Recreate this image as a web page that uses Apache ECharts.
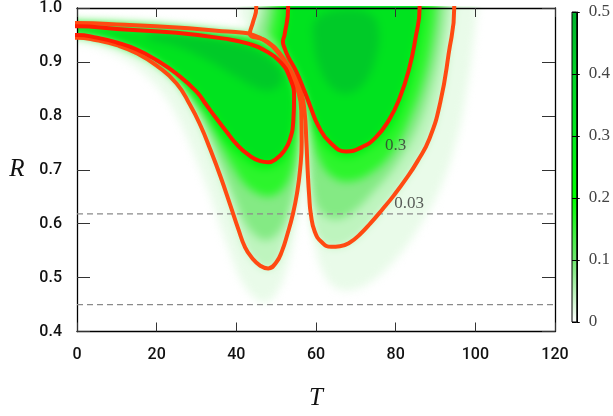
<!DOCTYPE html>
<html>
<head>
<meta charset="utf-8">
<script src="https://cdn.jsdelivr.net/npm/echarts@6/dist/echarts.min.js"></script>
<style>
  html, body { margin: 0; padding: 0; background: #fff; }
  #stage { position: relative; width: 613px; height: 416px; overflow: hidden; }
  #fieldClip { position: absolute; left: 77px; top: 6px; width: 478px; height: 327px; overflow: hidden; }
  #field { position: absolute; left: -77px; top: -6px; width: 613px; height: 416px; filter: blur(4px); }
  #chart { position: absolute; left: 0; top: 0; width: 613px; height: 416px; }
</style>
</head>
<body>
<div id="stage">
  <div id="fieldClip"><div id="field"></div></div>
  <div id="chart"></div>
</div>
<script>
// ---- axes and scale ----
const tTicks = [0, 20, 40, 60, 80, 100, 120];
const rTicks = [0.4, 0.5, 0.6, 0.7, 0.8, 0.9, 1.0];
const scaleTicks = [0, 0.1, 0.2, 0.3, 0.4, 0.5];
const paletteStops = ['#ffffff', '#6ee66e', '#00ff00', '#00ea1c', '#00d426', '#00b22c'];

// dashed reference levels of R
const guideLevels = [0.618, 0.45];

// contour levels that are drawn as lines
const innerLevel = 0.3;
const outerLevel = 0.03;

// ---- contour 0.3 (T, R) ----
const leftC03 = [[-3,0.966],[0,0.966],[10,0.961],[25,0.954],[38,0.942],[43.4,0.933],[46.7,0.923],[50.9,0.901],[53.4,0.871],[54.5,0.834],[54.3,0.79],[53.4,0.755],[52,0.735],[50,0.72],[48,0.714],[46,0.716],[43,0.728],[40,0.748],[37.5,0.771],[35,0.795],[32.5,0.82],[30,0.845],[25,0.878],[20,0.903],[15,0.923],[10,0.936],[5,0.945],[0,0.950],[-3,0.950]];
const rightC03 = [[53,1.03],[53,1.0],[52.1,0.95],[51.7,0.938],[52.1,0.926],[53,0.91],[55,0.883],[57.1,0.846],[58.6,0.817],[60.6,0.781],[63.5,0.751],[67.6,0.734],[71.5,0.742],[75,0.76],[78.3,0.792],[81,0.833],[83.3,0.885],[85,0.945],[86,1.0],[86,1.03]];

// ---- contour 0.03 (T, R) ----
const leftC003 = [[-3,0.972],[0,0.972],[12,0.969],[25,0.964],[35,0.958],[41.8,0.954],[43.4,0.952],[47,0.940],[50.6,0.916],[53.4,0.884],[55.4,0.848],[56.3,0.81],[56.4,0.75],[56,0.70],[55.2,0.655],[54.2,0.618],[52.8,0.58],[51.5,0.55],[50,0.528],[48,0.517],[46,0.522],[44,0.536],[42.2,0.556],[40.5,0.59],[38.5,0.634],[36,0.688],[33.5,0.737],[31,0.782],[28.4,0.820],[25,0.860],[20,0.893],[15,0.916],[10,0.931],[5,0.940],[0,0.945],[-3,0.945]];
const rightC003 = [[45,1.03],[45,1.0],[44.2,0.974],[43.4,0.953],[47.5,0.939],[51,0.915],[54,0.88],[56.2,0.845],[57.1,0.81],[57.6,0.75],[57.9,0.70],[58.3,0.65],[58.7,0.618],[59.7,0.585],[61.4,0.566],[63.8,0.557],[66,0.558],[68.5,0.565],[71,0.58],[73.7,0.601],[76.5,0.625],[79.5,0.652],[82.5,0.682],[85.5,0.716],[88.5,0.758],[91.2,0.825],[93.3,0.915],[94.7,1.0],[94.7,1.03]];

// ---- further field levels (T, R) ----
const leftF001 = [[-3,0.978],[0,0.977],[20,0.971],[38,0.960],[43,0.958],[47.5,0.946],[51,0.921],[54.3,0.885],[56.3,0.845],[57.2,0.80],[57.4,0.74],[57,0.70],[56.1,0.64],[54.8,0.585],[53,0.525],[50.5,0.478],[47.5,0.456],[44.5,0.465],[41,0.50],[38.3,0.55],[35.8,0.60],[33,0.66],[29.8,0.72],[26.3,0.78],[22.5,0.83],[17.5,0.872],[12,0.902],[6,0.922],[0,0.933],[-3,0.933]];
const leftF006 = [[-3,0.971],[0,0.971],[12,0.968],[25,0.962],[38,0.951],[43.4,0.947],[47,0.937],[50.6,0.913],[53.5,0.879],[55.3,0.844],[56.1,0.80],[56.2,0.745],[55.6,0.70],[54.3,0.65],[52.3,0.605],[49.8,0.578],[47.2,0.57],[44.6,0.58],[42,0.604],[39.6,0.645],[36.5,0.70],[33.6,0.752],[30.5,0.80],[26.2,0.853],[21,0.887],[16.5,0.91],[8,0.934],[0,0.946],[-3,0.946]];
const leftF012 = [[-3,0.970],[0,0.970],[12,0.967],[25,0.960],[38,0.949],[43.4,0.943],[47,0.933],[50.9,0.909],[53.8,0.876],[55.3,0.84],[55.7,0.80],[55.5,0.76],[54.8,0.72],[53.5,0.687],[51.5,0.663],[48.5,0.651],[45.5,0.655],[42.5,0.67],[39.8,0.697],[37,0.732],[34.2,0.772],[31,0.81],[27,0.847],[22.5,0.881],[17.5,0.905],[8,0.934],[0,0.947],[-3,0.947]];
const leftF020 = [[-3,0.968],[0,0.968],[10,0.963],[25,0.956],[38,0.945],[43.4,0.937],[47,0.927],[51.5,0.904],[54.1,0.873],[55.2,0.834],[55,0.79],[53.7,0.745],[51.4,0.714],[48.5,0.703],[46.3,0.702],[43.7,0.71],[41,0.725],[38.3,0.743],[35,0.77],[32,0.805],[28,0.84],[24,0.872],[19.5,0.898],[16,0.914],[8,0.936],[0,0.948],[-3,0.948]];
const leftF040 = [[18,0.951],[28,0.946],[38,0.936],[45,0.919],[49.5,0.897],[51.5,0.876],[51,0.856],[48.5,0.845],[45,0.85],[40,0.87],[33,0.9],[25,0.926],[18,0.941]];

const rightF001 = [[41,1.03],[41,1.0],[41.2,0.975],[44.5,0.962],[49,0.942],[52.8,0.91],[55.8,0.87],[57.6,0.82],[58.2,0.75],[58.5,0.68],[58.9,0.62],[59.6,0.565],[61.5,0.515],[64.5,0.485],[68.5,0.478],[74,0.495],[80,0.535],[86,0.595],[91.5,0.67],[95.5,0.76],[98.2,0.86],[99.8,0.95],[100.5,1.0],[100.5,1.03]];
const rightF006 = [[47,1.03],[47,1.0],[46,0.965],[45.5,0.951],[48.5,0.936],[51.6,0.911],[54.6,0.876],[56.7,0.84],[57.7,0.80],[58.2,0.74],[58.7,0.68],[60,0.636],[62.4,0.614],[65.5,0.609],[69.5,0.623],[74.5,0.66],[80,0.708],[85.3,0.775],[88.8,0.85],[91.2,0.93],[92.4,1.0],[92.4,1.03]];
const rightF012 = [[49.5,1.03],[49.5,1.0],[48.6,0.96],[48.3,0.945],[50.3,0.927],[52.5,0.904],[55,0.872],[57,0.837],[58.2,0.80],[59.1,0.76],[60.6,0.722],[63.5,0.69],[68,0.678],[73.5,0.692],[79.3,0.733],[83.8,0.798],[87.2,0.87],[89.2,0.94],[90.2,1.0],[90.2,1.03]];
const rightF020 = [[52.2,1.03],[52.2,1.0],[51.3,0.95],[50.9,0.936],[51.4,0.922],[52.5,0.905],[54.5,0.878],[56.6,0.84],[57.9,0.81],[59.9,0.77],[63,0.738],[67.6,0.722],[73,0.737],[78.4,0.77],[82,0.823],[84.6,0.887],[86.3,0.95],[87.2,1.0],[87.2,1.03]];
const rightF040 = [[60,0.975],[59.5,0.93],[61,0.885],[64,0.85],[68,0.84],[72,0.858],[74.8,0.9],[75.8,0.95],[74,0.983],[67,0.993]];

// filled bands, drawn from the lowest level upward; value = colour of the band
const fieldBands = [
  { value: 0.015, pts: leftF001 }, { value: 0.015, pts: rightF001 },
  { value: 0.045, pts: leftC003 }, { value: 0.045, pts: rightC003 },
  { value: 0.085, pts: leftF006 }, { value: 0.085, pts: rightF006 },
  { value: 0.16,  pts: leftF012 }, { value: 0.16,  pts: rightF012 },
  { value: 0.25,  pts: leftF020 }, { value: 0.25,  pts: rightF020 },
  { value: 0.33,  pts: leftC03 },  { value: 0.33,  pts: rightC03 },
  { value: 0.43,  pts: leftF040 }, { value: 0.43,  pts: rightF040 }
];

const SANS = "Roboto, 'Liberation Sans', Arial, sans-serif";
const SERIF = "'Liberation Serif', 'DejaVu Serif', 'Times New Roman', serif";
const tMin = tTicks[0], tMax = tTicks[tTicks.length - 1];
const rMin = rTicks[0], rMax = rTicks[rTicks.length - 1];
const sMin = scaleTicks[0], sMax = scaleTicks[scaleTicks.length - 1];
const plotGrid = { left: 77, top: 6, width: 478, height: 327 };

// ---- smooth colour field (blurred layer underneath) ----
const field = echarts.init(document.getElementById('field'), null, { renderer: 'canvas' });
field.setOption({
  animation: false,
  grid: plotGrid,
  xAxis: { type: 'value', min: tMin, max: tMax, show: false },
  yAxis: { type: 'value', min: rMin, max: rMax, show: false },
  visualMap: {
    type: 'continuous', show: false, min: sMin, max: sMax,
    dimension: 0, seriesIndex: 0, inRange: { color: paletteStops }
  },
  series: [{
    type: 'custom',
    coordinateSystem: 'cartesian2d',
    clip: false,
    data: fieldBands.map((b, i) => [b.value, i]),
    renderItem: function (params, api) {
      const band = fieldBands[params.dataIndex];
      return {
        type: 'polygon',
        shape: { points: band.pts.map(p => api.coord(p)), smooth: 0.4 },
        style: { fill: api.visual('color') }
      };
    }
  }]
});

// ---- axes, contour lines, labels, colour scale ----
const frameLine = { show: true, onZero: false, lineStyle: { color: '#000', width: 1.3 } };
const contourLine = (data, color) => ({
  type: 'line', xAxisIndex: 0, yAxisIndex: 0, data: data,
  showSymbol: false, symbol: 'none', smooth: 0.5, clip: true, z: 4,
  lineStyle: { color: color, width: 4, cap: 'round', join: 'round' }
});
const guideLine = r => ({
  type: 'line', xAxisIndex: 0, yAxisIndex: 0, data: [[tMin, r], [tMax, r]],
  symbol: 'none', clip: true, z: 3,
  lineStyle: { color: '#8a8a8a', width: 1.2, type: [6, 4] }
});
const tickText = { fontFamily: SANS, fontWeight: 500, fontSize: 16, color: '#111', margin: 15 };

const chart = echarts.init(document.getElementById('chart'), null, { renderer: 'canvas' });
chart.setOption({
  animation: false,
  backgroundColor: 'transparent',
  grid: [plotGrid, { left: 572, top: 12, width: 6, height: 310, show: true, borderColor: '#000', borderWidth: 1, z: 6 }],
  xAxis: [
    {
      type: 'value', gridIndex: 0, min: tMin, max: tMax, interval: 20, position: 'bottom',
      axisLine: frameLine,
      axisTick: { inside: true, length: 9, lineStyle: { color: '#333', width: 1 } },
      axisLabel: tickText,
      splitLine: { show: false },
      name: 'T', nameLocation: 'middle', nameGap: 67,
      nameTextStyle: { fontFamily: SERIF, fontStyle: 'italic', fontSize: 25, color: '#111', align: 'center', verticalAlign: 'middle' }
    },
    {
      type: 'value', gridIndex: 0, min: tMin, max: tMax, interval: 20, position: 'top',
      axisLine: frameLine,
      axisTick: { inside: true, length: 9, lineStyle: { color: '#333', width: 1 } },
      axisLabel: { show: false }, splitLine: { show: false }
    },
    { type: 'value', gridIndex: 1, min: 0, max: 1, show: false }
  ],
  yAxis: [
    {
      type: 'value', gridIndex: 0, min: rMin, max: rMax, interval: 0.1, position: 'left',
      axisLine: frameLine,
      axisTick: { inside: true, length: 13, lineStyle: { color: '#333', width: 1 } },
      axisLabel: Object.assign({}, tickText, { formatter: v => v.toFixed(1) }),
      splitLine: { show: false },
      name: 'R', nameLocation: 'middle', nameGap: 60, nameRotate: 0,
      nameTextStyle: { fontFamily: SERIF, fontStyle: 'italic', fontSize: 25, color: '#111', align: 'center', verticalAlign: 'middle' }
    },
    {
      type: 'value', gridIndex: 0, min: rMin, max: rMax, interval: 0.1, position: 'right',
      axisLine: frameLine,
      axisTick: { inside: true, length: 13, lineStyle: { color: '#333', width: 1 } },
      axisLabel: { show: false }, splitLine: { show: false }
    },
    {
      type: 'value', gridIndex: 1, min: sMin, max: sMax, interval: 0.1, position: 'right', z: 6,
      axisLine: { show: true, onZero: false, lineStyle: { color: '#000', width: 1 } },
      axisTick: { show: true, inside: false, length: 3, lineStyle: { color: '#000', width: 1 } },
      splitLine: { show: true, lineStyle: { color: '#000', width: 1 } },
      axisLabel: { fontFamily: SERIF, fontSize: 17, color: '#444', margin: 12, formatter: v => (v === 0 ? '0' : v.toFixed(1)) }
    }
  ],
  visualMap: {
    type: 'continuous', show: true, min: sMin, max: sMax, calculable: false,
    left: 572, top: 12, itemWidth: 6, itemHeight: 310, padding: 0, z: 4,
    seriesIndex: 6, dimension: 0,
    inRange: { color: paletteStops }
  },
  series: [
    guideLine(guideLevels[0]),
    guideLine(guideLevels[1]),
    contourLine(leftC003, '#ff4a12'),
    contourLine(rightC003, '#ff4a12'),
    contourLine(leftC03, '#ff1c00'),
    contourLine(rightC03, '#ff1c00'),
    {
      type: 'scatter', xAxisIndex: 0, yAxisIndex: 0, symbolSize: 0, z: 5,
      data: [
        { value: [80.0, 0.745], name: String(innerLevel) },
        { value: [83.4, 0.638], name: String(outerLevel) }
      ],
      label: {
        show: true, position: 'inside', formatter: p => p.name,
        fontFamily: SERIF, fontSize: 17, color: '#333'
      }
    }
  ]
});
</script>
</body>
</html>
